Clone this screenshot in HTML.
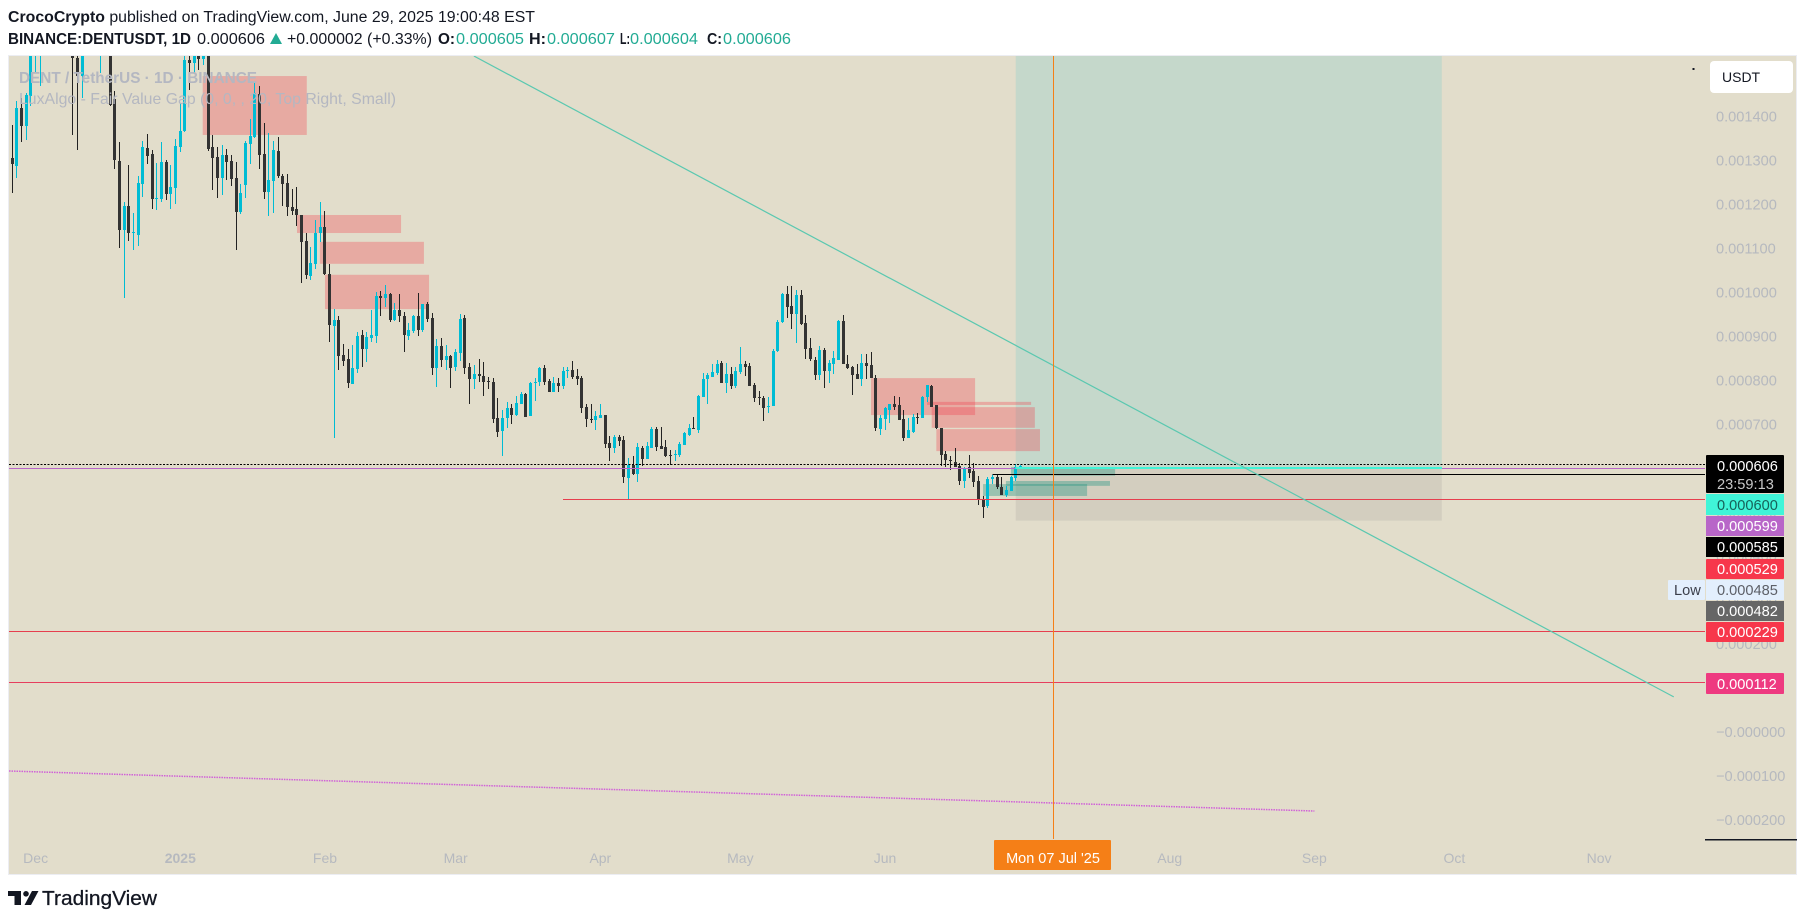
<!DOCTYPE html>
<html lang="en">
<head>
<meta charset="utf-8">
<title>DENTUSDT chart</title>
<style>
html,body{margin:0;padding:0;background:#fff;width:1806px;height:922px;overflow:hidden}
svg{display:block;font-family:"Liberation Sans",sans-serif}
.tick{font-size:14.6px;fill:#b6b9bf}
.tag{font-size:14.6px}
.time{font-size:14px;fill:#b6b9bf;text-anchor:middle}
</style>
</head>
<body>
<svg id="chart" xmlns="http://www.w3.org/2000/svg" width="1806" height="922" viewBox="0 0 1806 922">
  <defs>
    <clipPath id="pane"><rect x="9" y="56" width="1696" height="783"></rect></clipPath>
  </defs>
  <rect x="0" y="0" width="1806" height="922" fill="#ffffff"></rect>

  <g fill="#131722" font-size="15.5">
    <text x="8" y="22" textLength="527" lengthAdjust="spacingAndGlyphs"><tspan font-weight="700">CrocoCrypto</tspan> published on TradingView.com, June 29, 2025 19:00:48 EST</text>
    <text x="8" y="44" font-weight="700" textLength="183" lengthAdjust="spacingAndGlyphs">BINANCE:DENTUSDT, 1D</text>
    <text x="197" y="44" textLength="68" lengthAdjust="spacingAndGlyphs">0.000606</text>
    <polygon points="270,44 276,33 282,44" fill="#22ab94"></polygon>
    <text x="287" y="44" textLength="145" lengthAdjust="spacingAndGlyphs">+0.000002 (+0.33%)</text>
    <text x="438" y="44" font-weight="700" textLength="17" lengthAdjust="spacingAndGlyphs">O:</text>
    <text x="456" y="44" fill="#22ab94" textLength="68" lengthAdjust="spacingAndGlyphs">0.000605</text>
    <text x="529" y="44" font-weight="700" textLength="17" lengthAdjust="spacingAndGlyphs">H:</text>
    <text x="547" y="44" fill="#22ab94" textLength="68" lengthAdjust="spacingAndGlyphs">0.000607</text>
    <text x="620" y="44" font-weight="700" textLength="10" lengthAdjust="spacingAndGlyphs">L:</text>
    <text x="630" y="44" fill="#22ab94" textLength="68" lengthAdjust="spacingAndGlyphs">0.000604</text>
    <text x="707" y="44" font-weight="700" textLength="15" lengthAdjust="spacingAndGlyphs">C:</text>
    <text x="723" y="44" fill="#22ab94" textLength="68" lengthAdjust="spacingAndGlyphs">0.000606</text>
  </g>

  <rect x="8.5" y="55.5" width="1788" height="819" fill="#e2ddcb" stroke="#ecedf2" stroke-width="1"></rect>

  <g id="tickLayer"></g>
  <g id="timeLayer"></g>
  <g id="paneLayer" clip-path="url(#pane)"></g>

  <rect x="1705" y="839" width="92" height="1.5" fill="#131722"></rect>

  <g class="tag">
    <g>
      <rect x="1706" y="455" width="78" height="38" rx="1" fill="#000000"></rect>
      <text x="1717" y="471" fill="#ffffff">0.000606</text>
      <text x="1717" y="489" fill="#c8c8c8">23:59:13</text>
    </g>
    <g>
      <rect x="1706" y="494" width="78" height="21" fill="#40f5d8"></rect>
      <text x="1717" y="510" fill="#16635a">0.000600</text>
    </g>
    <g>
      <rect x="1706" y="516" width="78" height="20" fill="#b866c8"></rect>
      <text x="1717" y="531" fill="#ffffff">0.000599</text>
    </g>
    <g>
      <rect x="1706" y="537" width="78" height="20" fill="#000000"></rect>
      <text x="1717" y="552" fill="#ffffff">0.000585</text>
    </g>
    <g>
      <rect x="1706" y="559" width="78" height="20" rx="1" fill="#f7374b"></rect>
      <text x="1717" y="574" fill="#ffffff">0.000529</text>
    </g>
    <g>
      <rect x="1668" y="580" width="37" height="20" rx="1" fill="#e3effd"></rect>
      <text x="1674" y="595" fill="#3b3f4a">Low</text>
      <rect x="1706" y="580" width="78" height="20" fill="#e3effd"></rect>
      <text x="1717" y="595" fill="#5d6068">0.000485</text>
    </g>
    <g>
      <rect x="1706" y="601" width="78" height="20" fill="#666666"></rect>
      <text x="1717" y="616" fill="#ffffff">0.000482</text>
    </g>
    <g>
      <rect x="1706" y="622" width="78" height="20" rx="1" fill="#f7374b"></rect>
      <text x="1717" y="637" fill="#ffffff">0.000229</text>
    </g>
    <g>
      <rect x="1706" y="673" width="78" height="21" rx="1" fill="#ee3a80"></rect>
      <text x="1717" y="689" fill="#ffffff">0.000112</text>
    </g>
  </g>

  <g>
    <rect x="994" y="840" width="117" height="30" rx="1" fill="#f57f17"></rect>
    <text x="1053" y="863" fill="#ffffff" font-size="14.5" text-anchor="middle">Mon 07 Jul '25</text>
  </g>

  <g>
    <rect x="1710" y="61" width="83" height="32" rx="4" fill="#ffffff"></rect>
    <text x="1722" y="82" fill="#131722" font-size="14">USDT</text>
  </g>
  <rect x="1692.5" y="68" width="2" height="2" fill="#131722"></rect>

  <g fill="#b4b7c1">
    <text x="19" y="83" font-size="16" font-weight="700" textLength="238" lengthAdjust="spacingAndGlyphs">DENT / TetherUS · 1D · BINANCE</text>
    <text x="19" y="104" font-size="16" textLength="377" lengthAdjust="spacingAndGlyphs">LuxAlgo - Fair Value Gap (0, 0, , 20, Top Right, Small)</text>
  </g>

  <g fill="#131722">
    <path d="M8 891h13v14h-6.500v-9H8zM32 891h6.500L31 905h-6.500z"></path>
    <circle cx="26" cy="893.800" r="2.800"></circle>
    <text x="42" y="905" font-size="20" textLength="115" lengthAdjust="spacingAndGlyphs" stroke="#131722" stroke-width="0.300">TradingView</text>
  </g>
</svg>

<script>
// OHLC prices, in millionths of USDT (1306 = 0.001306). First bar = 26 Nov 2024.
const opens = [
1306,1288,1419,1378,1447,1600,1590,1680,1620,1690,
1640,1700,1650,1620,1532,1491,1600,1660,1620,1590,
1640,1620,1439,1299,1142,1197,1135,1131,1247,1328,
1315,1213,1213,1297,1224,1237,1331,1367,1529,1522,
1600,1531,1600,1331,1308,1261,1312,1299,1260,1183,
1245,1338,1354,1451,1315,1228,1253,1322,1265,1249,
1194,1190,1176,1117,1037,1064,1135,1149,1042,923,
937,857,848,792,826,903,871,896,901,992,
987,996,937,960,946,901,912,946,914,974,
942,828,878,846,855,830,862,942,830,803,
814,810,798,796,714,685,714,737,721,746,
769,719,794,796,828,798,773,794,787,821,
823,810,805,739,712,710,714,721,658,646,
671,664,578,608,587,646,621,646,689,651,
648,630,631,630,653,676,692,687,762,803,
808,817,839,794,814,787,819,837,833,789,
762,760,740,742,867,933,996,969,951,994,
930,874,846,812,869,821,837,846,935,837,
830,814,803,840,835,806,690,712,733,746,
744,712,669,683,717,715,762,787,744,692,
633,619,615,605,571,603,594,571,530,514,
576,580,558,540,549,578,605];
const highs = [
1381,1435,1441,1453,1640,1680,1670,1700,1710,1720,
1720,1730,1680,1640,1600,1640,1680,1690,1700,1660,
1670,1640,1458,1342,1205,1290,1181,1265,1344,1360,
1323,1294,1342,1301,1290,1349,1430,1545,1560,1620,
1620,1620,1620,1358,1331,1335,1326,1312,1297,1247,
1344,1394,1478,1469,1385,1363,1344,1353,1269,1269,
1235,1240,1176,1135,1103,1165,1205,1185,1064,962,
946,883,871,880,910,914,910,960,1001,1003,
1017,998,976,996,955,930,948,999,974,978,
953,894,896,880,857,871,951,948,839,835,
848,842,808,805,760,732,751,746,764,773,
771,796,805,830,835,803,807,805,830,830,
844,826,810,746,746,730,746,721,674,676,
676,673,623,628,658,651,660,694,694,694,
664,642,642,660,683,701,717,767,817,817,
837,846,844,839,830,830,876,844,840,794,
776,764,762,871,937,999,1015,1015,1006,1006,
949,896,853,878,874,846,867,937,949,858,
833,837,860,860,865,812,721,740,746,765,
762,733,715,724,726,765,790,790,744,692,
640,628,646,612,603,630,612,583,537,580,
585,587,580,560,583,610,607];
const lows = [
1226,1259,1341,1347,1425,1498,1470,1590,1600,1610,
1620,1630,1590,1358,1324,1443,1580,1600,1600,1498,
1580,1425,1281,1102,988,1117,1096,1106,1217,1292,
1190,1187,1205,1210,1190,1201,1319,1365,1460,1500,
1506,1517,1322,1233,1215,1222,1256,1242,1096,1178,
1215,1292,1352,1281,1212,1174,1181,1260,1197,1174,
1176,1150,1021,1030,1028,1053,1114,1039,887,669,
823,833,782,792,817,830,842,887,885,946,
967,933,935,933,864,892,908,901,910,933,
812,785,830,823,782,821,844,814,746,780,
796,764,780,703,671,629,692,701,719,746,
717,719,753,787,789,773,773,773,780,805,
803,789,726,694,703,687,714,646,617,635,
651,567,530,585,569,605,621,646,639,644,
626,607,617,626,653,673,689,680,762,746,
808,812,794,771,780,783,814,810,787,751,
744,708,726,742,865,930,942,917,885,926,
849,844,801,801,783,794,814,846,837,826,
767,803,787,803,806,685,676,687,703,733,
710,662,669,680,701,715,751,740,690,605,
603,596,603,562,555,578,558,517,487,510,
565,553,540,535,549,572,604];
const closes = [
1292,1419,1379,1449,1620,1660,1650,1620,1690,1640,
1700,1650,1610,1534,1491,1620,1660,1620,1680,1640,
1600,1426,1300,1142,1197,1134,1138,1248,1331,1310,
1213,1215,1297,1224,1240,1333,1367,1529,1522,1600,
1531,1600,1326,1306,1261,1312,1297,1258,1183,1226,
1340,1356,1453,1312,1228,1256,1324,1265,1247,1195,
1185,1175,1115,1039,1067,1135,1149,1042,926,937,
855,844,794,828,901,871,898,903,992,987,
996,937,960,946,903,914,946,914,974,939,
828,878,846,855,828,864,939,828,803,814,
810,796,796,712,682,714,737,721,748,769,
717,794,796,828,796,773,794,787,821,823,
807,803,737,712,711,719,721,655,646,671,
662,580,608,587,649,621,651,689,648,644,
628,629,633,655,680,692,689,764,803,812,
819,837,794,814,787,821,837,830,787,760,
761,737,742,867,933,996,967,951,994,928,
871,849,812,869,821,840,851,935,837,828,
812,803,840,833,806,692,715,737,746,740,
710,669,687,717,715,762,790,740,692,630,
618,618,603,571,601,590,569,530,512,576,
580,558,540,551,580,604,606];

// Axis ticks
const priceTicks = [1400,1300,1200,1100,1000,900,800,700,600,500,400,300,200,100,0,-100,-200];
const monthLabels = ['Dec','2025','Feb','Mar','Apr','May','Jun','Aug','Sep','Oct','Nov'];
const monthBars = [5,36,67,95,126,156,187,248,279,309,340];

// Fair value gaps: [start bar, end bar, top price, bottom price]
const bearishGaps = [
  [40.8,63.1,1492,1358],[61,83.3,1176,1135],[65.9,88.2,1115,1065],[67,89.3,1040,962],
  [184,206.3,805,721],[196,218.3,751,744],[197,219.1,739,692],[198,220.2,689,639]];
const bullishGaps = [[214,236.3,603,583],[212.9,235.2,571,560],[208,230.3,564,537]];

// Long position drawing: start bar, end bar, target, entry, stop
const positionBars = [215,306.3];
const positionPrices = [1700,600,481];

// Horizontal levels
const lastPrice = 606;
const purpleLevel = 599;
const blackLevel = 585;
const blackLevelStartBar = 210;
const redLevelUpper = 529;
const redLevelUpperStartBar = 118;
const redLevelMid = 229;
const redLevelLow = 112;

// Trend lines: [bar, price] endpoints
const trendLineBars = [98.9,356];
const trendLinePrices = [1537.6,80];
const dottedLineBars = [-0.7,279];
const dottedLinePrices = [-88.5,-179.5];
const crosshairBar = 223;

const NS = 'http://www.w3.org/2000/svg';
const xOf = b => 12.3 + b * 4.667;
const yOf = v => 116.5 + (1400 - v) * 0.4397;
const snap = p => Math.floor(p) + 0.5;
const pane = document.getElementById('paneLayer');
const tickLayer = document.getElementById('tickLayer');
const timeLayer = document.getElementById('timeLayer');

function make(tag, attrs, parent) {
  const el = document.createElementNS(NS, tag);
  for (const k in attrs) el.setAttribute(k, attrs[k]);
  parent.appendChild(el);
  return el;
}
function fmtPrice(v) {
  const s = (Math.abs(v) / 1e6).toFixed(6);
  return v < 0 || v === 0 ? '\u2212' + s : s;
}

priceTicks.forEach(v => {
  const t = make('text', {x: 1716, y: yOf(v) + 5, class: 'tick'}, tickLayer);
  t.textContent = fmtPrice(v);
  
  
});

monthLabels.forEach((label, i) => {
  const t = make('text', {x: xOf(monthBars[i]), y: 863, class: 'time'}, timeLayer);
  if (label === '2025') t.setAttribute('font-weight', '700');
  t.textContent = label;
  
  
});

// Long position zones
const longX = xOf(positionBars[0]);
const longW = xOf(positionBars[1]) - longX;
const profitZone = make('rect', {x: longX, y: yOf(positionPrices[0]), width: longW, height: yOf(positionPrices[1]) - yOf(positionPrices[0]), fill: 'rgba(0,185,210,0.125)'}, pane);


const stopZone = make('rect', {x: longX, y: yOf(positionPrices[1]), width: longW, height: yOf(positionPrices[2]) - yOf(positionPrices[1]), fill: 'rgba(120,120,120,0.14)'}, pane);



bearishGaps.forEach(g => {
  const r = make('rect', {x: xOf(g[0]), y: yOf(g[2]), width: xOf(g[1]) - xOf(g[0]), height: yOf(g[3]) - yOf(g[2]), fill: 'rgba(242,54,69,0.3)'}, pane);
  
  
});
bullishGaps.forEach(g => {
  const r = make('rect', {x: xOf(g[0]), y: yOf(g[2]), width: xOf(g[1]) - xOf(g[0]), height: yOf(g[3]) - yOf(g[2]), fill: 'rgba(8,140,120,0.33)'}, pane);
  
  
});

// Candles
const candleLayer = make('g', {'shape-rendering': 'crispEdges'}, pane);


closes.forEach((c, i) => {
  const up = c >= opens[i];
  const color = up ? '#00bcd4' : '#333333';
  const px = Math.floor(xOf(i));
  const yH = Math.round(yOf(highs[i]));
  const yL = Math.round(yOf(lows[i]));
  const yT = Math.round(yOf(Math.max(opens[i], c)));
  const yB = Math.round(yOf(Math.min(opens[i], c)));
  const wick = make('rect', {x: px, y: yH, width: 1, height: Math.max(1, yL - yH), fill: up ? color : '#222222'}, candleLayer);
  
  
  const body = make('rect', {x: px - 1, y: yT, width: 3, height: Math.max(1, yB - yT), fill: color}, candleLayer);
  
  
});

// Level lines
const levelLayer = make('g', {'shape-rendering': 'crispEdges'}, pane);


const lastLine = make('line', {x1: 9, x2: 1705, y1: snap(yOf(lastPrice)) - 1, y2: snap(yOf(lastPrice)) - 1, stroke: '#000000', 'stroke-width': 1, 'stroke-dasharray': '2 1.500'}, levelLayer);


const purpleLine = make('line', {x1: 9, x2: 1705, y1: snap(yOf(purpleLevel)), y2: snap(yOf(purpleLevel)), stroke: '#b866c8', 'stroke-width': 1}, levelLayer);


const entryLine = make('line', {x1: longX, x2: longX + longW, y1: Math.round(yOf(positionPrices[1])), y2: Math.round(yOf(positionPrices[1])), stroke: '#40f5d8', 'stroke-width': 2}, levelLayer);


const blackLine = make('line', {x1: xOf(blackLevelStartBar), x2: 1705, y1: snap(yOf(blackLevel)), y2: snap(yOf(blackLevel)), stroke: '#000000', 'stroke-width': 1}, levelLayer);


const redUpper = make('line', {x1: xOf(redLevelUpperStartBar), x2: 1705, y1: snap(yOf(redLevelUpper)), y2: snap(yOf(redLevelUpper)), stroke: '#e63e4e', 'stroke-width': 1}, levelLayer);


const redMid = make('line', {x1: 9, x2: 1705, y1: snap(yOf(redLevelMid)), y2: snap(yOf(redLevelMid)), stroke: '#e63e4e', 'stroke-width': 1}, levelLayer);


const redLow = make('line', {x1: 9, x2: 1705, y1: snap(yOf(redLevelLow)), y2: snap(yOf(redLevelLow)), stroke: '#e63e5e', 'stroke-width': 1}, levelLayer);



// Trend lines
const trend = make('line', {x1: xOf(trendLineBars[0]), y1: yOf(trendLinePrices[0]), x2: xOf(trendLineBars[1]), y2: yOf(trendLinePrices[1]), stroke: '#5ac8b0', 'stroke-width': 1.2}, pane);


const dotted = make('line', {x1: xOf(dottedLineBars[0]), y1: yOf(dottedLinePrices[0]), x2: xOf(dottedLineBars[1]), y2: yOf(dottedLinePrices[1]), stroke: '#d060d8', 'stroke-width': 1.5, 'stroke-dasharray': '1.500 1'}, pane);



// Orange vertical marker
const vline = make('line', {x1: snap(xOf(crosshairBar)), x2: snap(xOf(crosshairBar)), y1: 56, y2: 840, stroke: '#f57f17', 'stroke-width': 1}, pane);


</script>
</body>
</html>
